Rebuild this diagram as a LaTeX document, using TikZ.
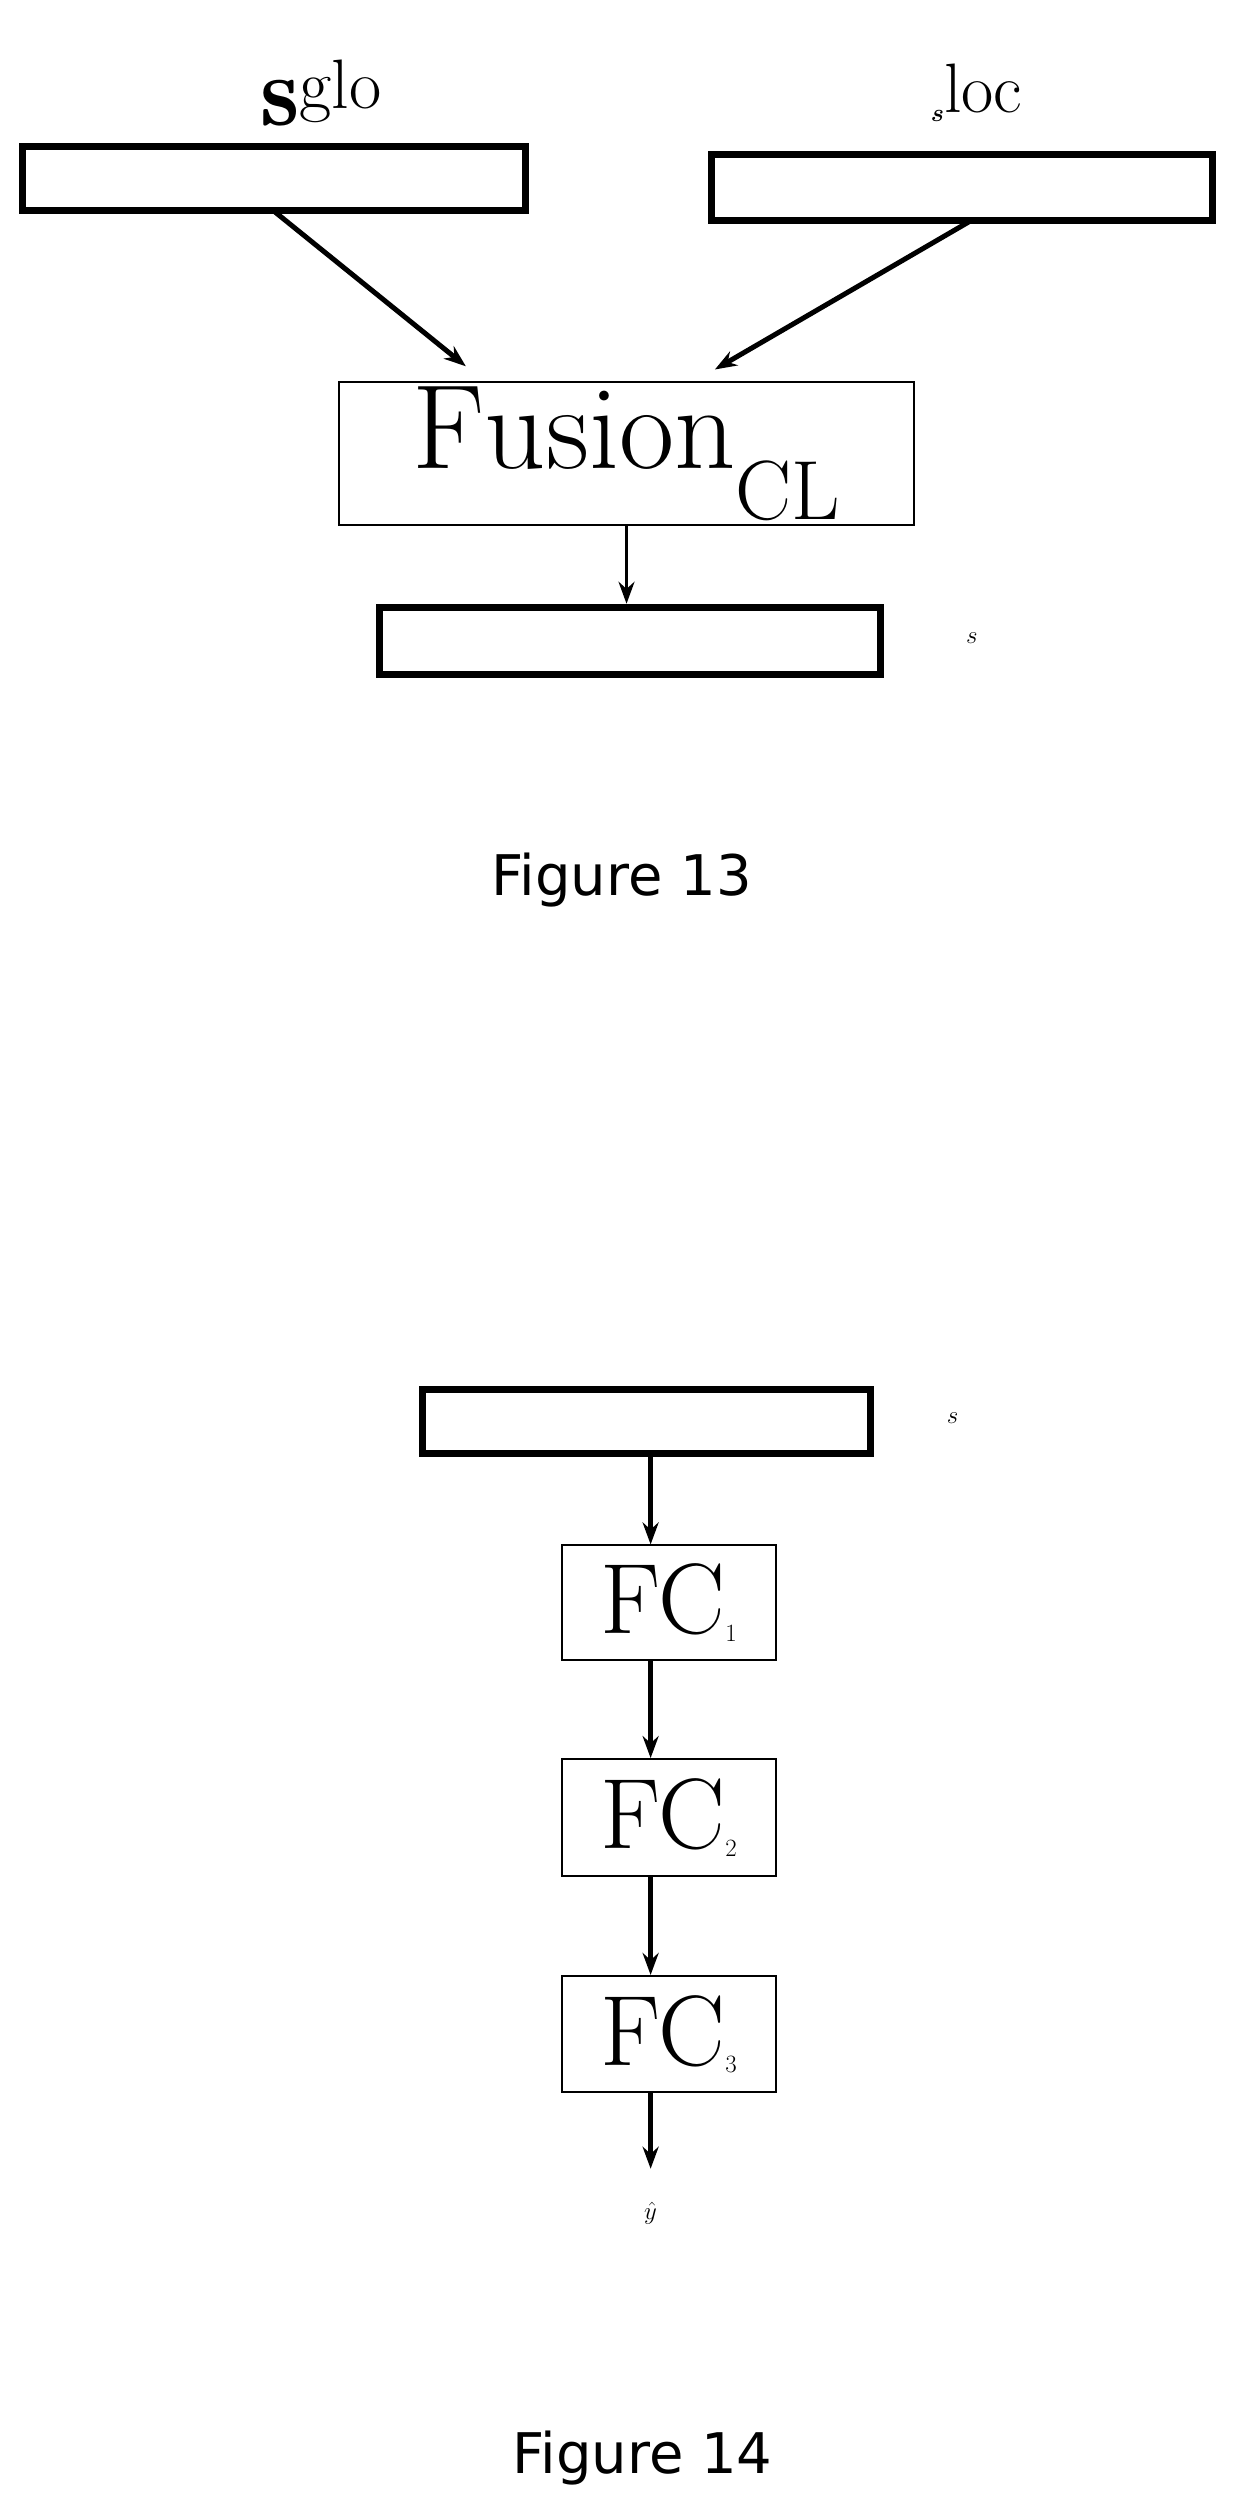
\documentclass[tikz,border=0pt]{standalone}
\usetikzlibrary{arrows.meta}
\usepackage{fontspec}
\newfontfamily\capfont{DejaVu Sans}
\usepackage{amsmath}
\begin{document}
\begin{tikzpicture}[x=1.6065pt,y=-1.6065pt,
 bar/.style={draw,line width=7pt,inner sep=0pt},
 blk/.style={draw,line width=2pt,inner sep=0pt},
 arr/.style={-{Stealth[length=22pt,width=16pt]},line width=5pt},
 lab/.style={font=\fontsize{100}{110}\selectfont},
 figcap/.style={font=\capfont\fontsize{56}{64}\selectfont}]
\useasboundingbox (0,0) rectangle (770,1564.3);
\node[bar,minimum width=313*1.6065pt,minimum height=40*1.6065pt] (g) at (170.5,111) {};
\node[bar,minimum width=312*1.6065pt,minimum height=41*1.6065pt] (l) at (599,116.5) {};
\node[lab] at (200,58) {$\mathbf{s}^{\mathrm{glo}}$};
\node[lab] at (608,58) {$\boldsymbol{s}^{\mathrm{loc}}$};
\node[blk,minimum width=358*1.6065pt,minimum height=89*1.6065pt,font=\fontsize{120}{130}\selectfont] (f) at (390,282.5) {$\mathrm{Fusion}_{\mathrm{CL}}$};
\node[bar,minimum width=312*1.6065pt,minimum height=42*1.6065pt] (s) at (392,399) {};
\node[lab] at (605,397) {$s$};
\coordinate (ga) at (170,131); \coordinate (la) at (605,137);
\draw[arr] (ga) -- (290,228);
\draw[arr] (la) -- (445,230);
\draw[arr,line width=3pt] (f.south -| 390,0) -- (s.north -| 390,0);
\node[figcap] at (387,548) {Figure 13};
\node[bar,minimum width=279*1.6065pt,minimum height=40*1.6065pt] (s2) at (402.5,885) {};
\node[lab] at (593,883) {$s$};
\node[blk,minimum width=133*1.6065pt,minimum height=71*1.6065pt,font=\fontsize{100}{110}\selectfont] (f1) at (416.5,997.5) {FC$_1$};
\node[blk,minimum width=133*1.6065pt,minimum height=73*1.6065pt,font=\fontsize{100}{110}\selectfont] (f2) at (416.5,1131.5) {FC$_2$};
\node[blk,minimum width=133*1.6065pt,minimum height=72*1.6065pt,font=\fontsize{100}{110}\selectfont] (f3) at (416.5,1266) {FC$_3$};
\node[lab] (y) at (405,1378) {$\hat{y}$};
\draw[arr] (s2.south -| 405,0) -- (f1.north -| 405,0);
\draw[arr] (f1.south -| 405,0) -- (f2.north -| 405,0);
\draw[arr] (f2.south -| 405,0) -- (f3.north -| 405,0);
\draw[arr] (f3.south -| 405,0) -- (405,1350);
\node[figcap] at (400,1530) {Figure 14};
\end{tikzpicture}
\end{document}
